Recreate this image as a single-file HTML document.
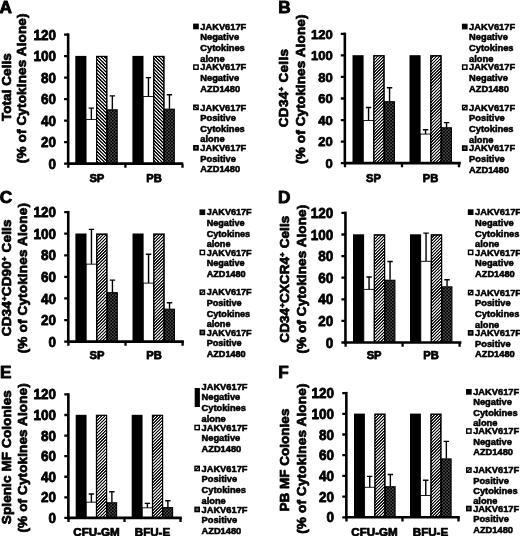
<!DOCTYPE html>
<html><head><meta charset="utf-8"><title>Figure</title>
<style>
html,body{margin:0;padding:0;background:#fff;overflow:hidden;}
svg{display:block;}
svg text{font-family:"Liberation Sans", sans-serif;font-weight:bold;fill:#000;stroke:#000;stroke-width:0.75px;stroke-linejoin:round;}
svg text.lg{stroke-width:0.55px;}
svg text.lt{stroke-width:0.9px;}
</style></head>
<body>
<svg width="520" height="536" viewBox="0 0 520 536">
<rect width="520" height="536" fill="#fff"/>
<defs>
<pattern id="hb" width="3.4" height="3.4" patternUnits="userSpaceOnUse"><rect width="3.4" height="3.4" fill="#fff"/><path d="M-1.7 -1.7L5.1 5.1M-1.7 1.7L1.7 5.1M1.7 -1.7L5.1 1.7" stroke="#000" stroke-width="1.35"/></pattern>
<pattern id="hf" width="3.1" height="3.1" patternUnits="userSpaceOnUse"><rect width="3.1" height="3.1" fill="#fff"/><path d="M-1.55 4.65L4.65 -1.55M-1.55 1.55L1.55 -1.55M1.55 4.65L4.65 1.55" stroke="#000" stroke-width="1.18"/></pattern>
<pattern id="hbm" width="2.4" height="2.4" patternUnits="userSpaceOnUse"><rect width="2.4" height="2.4" fill="#fff"/><path d="M-1.2 -1.2L3.6 3.6M-1.2 1.2L1.2 3.6M1.2 -1.2L3.6 1.2" stroke="#000" stroke-width="0.8"/></pattern>
<pattern id="hfm" width="2.4" height="2.4" patternUnits="userSpaceOnUse"><rect width="2.4" height="2.4" fill="#fff"/><path d="M-1.2 3.6L3.6 -1.2M-1.2 1.2L1.2 -1.2M1.2 3.6L3.6 1.2" stroke="#000" stroke-width="0.8"/></pattern>
<pattern id="chk" width="3.2" height="3.2" patternUnits="userSpaceOnUse"><rect width="3.2" height="3.2" fill="#000"/><rect x="0.2" y="0.2" width="1.2" height="1.2" fill="#808080"/><rect x="1.8" y="1.8" width="1.2" height="1.2" fill="#808080"/></pattern>
<filter id="ct" x="-5%" y="-5%" width="110%" height="110%" color-interpolation-filters="sRGB"><feComponentTransfer><feFuncR type="linear" slope="2.2" intercept="-0.6"/><feFuncG type="linear" slope="2.2" intercept="-0.6"/><feFuncB type="linear" slope="2.2" intercept="-0.6"/></feComponentTransfer></filter>
<pattern id="chkm" width="2" height="2" patternUnits="userSpaceOnUse"><rect width="2" height="2" fill="#000"/><rect x="0" y="0" width="1" height="1" fill="#999"/><rect x="1" y="1" width="1" height="1" fill="#999"/></pattern>
</defs>
<rect x="75.30" y="55.90" width="11.10" height="107.70" fill="#000"/>
<rect x="86.10" y="119.42" width="10.50" height="44.18" fill="#fff" stroke="#000" stroke-width="0.9"/>
<rect x="96.55" y="56.40" width="10.40" height="107.20" fill="url(#hb)" stroke="#000" stroke-width="1.2" filter="url(#ct)"/>
<rect x="107.35" y="109.82" width="9.85" height="53.78" fill="url(#chk)" stroke="#000" stroke-width="1.1"/>
<path d="M91.35 119.42V108.13M88.65 108.13H94.05" stroke="#000" stroke-width="1.4" fill="none"/>
<path d="M112.35 109.42V95.88M109.65 95.88H115.05" stroke="#000" stroke-width="1.4" fill="none"/>
<rect x="132.40" y="55.90" width="11.10" height="107.70" fill="#000"/>
<rect x="143.20" y="96.52" width="10.50" height="67.08" fill="#fff" stroke="#000" stroke-width="0.9"/>
<rect x="153.65" y="56.40" width="10.40" height="107.20" fill="url(#hb)" stroke="#000" stroke-width="1.2" filter="url(#ct)"/>
<rect x="164.45" y="109.18" width="9.85" height="54.42" fill="url(#chk)" stroke="#000" stroke-width="1.1"/>
<path d="M148.45 96.52V77.60M145.75 77.60H151.15" stroke="#000" stroke-width="1.4" fill="none"/>
<path d="M169.45 108.78V94.80M166.75 94.80H172.15" stroke="#000" stroke-width="1.4" fill="none"/>
<path d="M68.15 33.40V164.90" stroke="#000" stroke-width="2.6" fill="none"/>
<path d="M67.00 163.60H183.10" stroke="#000" stroke-width="2.6" fill="none"/>
<path d="M64.10 163.60H68.30M64.10 142.10H68.30M64.10 120.60H68.30M64.10 99.10H68.30M64.10 77.60H68.30M64.10 56.10H68.30M64.10 34.60H68.30M68.30 163.60V167.80M125.40 163.60V167.80M182.50 163.60V167.80" stroke="#000" stroke-width="2.29" fill="none"/>
<text transform="translate(55.90 168.67) scale(1 1.05)" font-size="13.5" text-anchor="end">0</text>
<text transform="translate(55.90 147.17) scale(1 1.05)" font-size="13.5" text-anchor="end">20</text>
<text transform="translate(55.90 125.67) scale(1 1.05)" font-size="13.5" text-anchor="end">40</text>
<text transform="translate(55.90 104.17) scale(1 1.05)" font-size="13.5" text-anchor="end">60</text>
<text transform="translate(55.90 82.67) scale(1 1.05)" font-size="13.5" text-anchor="end">80</text>
<text transform="translate(55.90 61.17) scale(1 1.05)" font-size="13.5" text-anchor="end">100</text>
<text transform="translate(55.90 39.67) scale(1 1.05)" font-size="13.5" text-anchor="end">120</text>
<text x="96.85" y="181.80" font-size="11.2" text-anchor="middle">SP</text>
<text x="153.95" y="181.80" font-size="11.2" text-anchor="middle">PB</text>
<text transform="translate(10.80 121.00) rotate(-90)" font-size="13.5" textLength="67.8" lengthAdjust="spacing">Total Cells</text>
<text transform="translate(26.40 163.20) rotate(-90)" font-size="13.5" textLength="149.7" lengthAdjust="spacing">(% of Cytokines Alone)</text>
<text x="-0.50" y="13.00" font-size="17.2" class="lt">A</text>
<rect x="193.80" y="24.30" width="4.30" height="4.30" fill="#000" stroke="#000" stroke-width="1.4"/>
<text font-size="9.3" class="lg"><tspan x="200.30" y="29.60">JAKV617F</tspan><tspan x="200.30" y="40.25">Negative</tspan><tspan x="200.30" y="50.90">Cytokines</tspan><tspan x="200.30" y="61.55">alone</tspan></text>
<rect x="193.80" y="65.00" width="4.30" height="4.30" fill="#fff" stroke="#000" stroke-width="1.4"/>
<text font-size="9.3" class="lg"><tspan x="200.30" y="70.30">JAKV617F</tspan><tspan x="200.30" y="80.95">Negative</tspan><tspan x="200.30" y="91.60">AZD1480</tspan></text>
<rect x="193.80" y="105.20" width="4.30" height="4.30" fill="#fff" stroke="#000" stroke-width="1.4"/>
<path d="M193.80 105.20L198.10 109.50" stroke="#000" stroke-width="1.3"/>
<text font-size="9.3" class="lg"><tspan x="200.30" y="110.50">JAKV617F</tspan><tspan x="200.30" y="121.15">Positive</tspan><tspan x="200.30" y="131.80">Cytokines</tspan><tspan x="200.30" y="142.45">alone</tspan></text>
<rect x="193.80" y="145.70" width="4.30" height="4.30" fill="#222" stroke="#000" stroke-width="1.4"/>
<rect x="194.90" y="146.80" width="2.10" height="2.10" fill="#6a6a6a"/>
<text font-size="9.3" class="lg"><tspan x="200.30" y="151.00">JAKV617F</tspan><tspan x="200.30" y="161.65">Positive</tspan><tspan x="200.30" y="172.30">AZD1480</tspan></text>
<rect x="352.50" y="55.20" width="11.10" height="107.95" fill="#000"/>
<rect x="363.30" y="120.59" width="10.50" height="42.56" fill="#fff" stroke="#000" stroke-width="0.9"/>
<rect x="373.75" y="55.70" width="10.40" height="107.45" fill="url(#hf)" stroke="#000" stroke-width="1.2" filter="url(#ct)"/>
<rect x="384.55" y="101.70" width="9.85" height="61.45" fill="url(#chk)" stroke="#000" stroke-width="1.1"/>
<path d="M368.55 120.59V107.44M365.85 107.44H371.25" stroke="#000" stroke-width="1.4" fill="none"/>
<path d="M389.55 101.30V87.73M386.85 87.73H392.25" stroke="#000" stroke-width="1.4" fill="none"/>
<rect x="409.50" y="55.20" width="11.10" height="107.95" fill="#000"/>
<rect x="420.30" y="134.06" width="10.50" height="29.09" fill="#fff" stroke="#000" stroke-width="0.9"/>
<rect x="430.75" y="55.70" width="10.40" height="107.45" fill="url(#hf)" stroke="#000" stroke-width="1.2" filter="url(#ct)"/>
<rect x="441.55" y="127.78" width="9.85" height="35.37" fill="url(#chk)" stroke="#000" stroke-width="1.1"/>
<path d="M425.55 134.06V129.75M422.85 129.75H428.25" stroke="#000" stroke-width="1.4" fill="none"/>
<path d="M446.55 127.38V122.64M443.85 122.64H449.25" stroke="#000" stroke-width="1.4" fill="none"/>
<path d="M344.85 32.65V164.45" stroke="#000" stroke-width="2.6" fill="none"/>
<path d="M343.70 163.15H460.80" stroke="#000" stroke-width="2.6" fill="none"/>
<path d="M340.80 163.15H345.00M340.80 141.60H345.00M340.80 120.05H345.00M340.80 98.50H345.00M340.80 76.95H345.00M340.80 55.40H345.00M340.80 33.85H345.00M345.00 163.15V167.35M402.00 163.15V167.35M459.00 163.15V167.35" stroke="#000" stroke-width="2.29" fill="none"/>
<text transform="translate(332.80 167.80) scale(1 1.0)" font-size="13" text-anchor="end">0</text>
<text transform="translate(332.80 146.25) scale(1 1.0)" font-size="13" text-anchor="end">20</text>
<text transform="translate(332.80 124.70) scale(1 1.0)" font-size="13" text-anchor="end">40</text>
<text transform="translate(332.80 103.15) scale(1 1.0)" font-size="13" text-anchor="end">60</text>
<text transform="translate(332.80 81.60) scale(1 1.0)" font-size="13" text-anchor="end">80</text>
<text transform="translate(332.80 60.05) scale(1 1.0)" font-size="13" text-anchor="end">100</text>
<text transform="translate(332.80 38.50) scale(1 1.0)" font-size="13" text-anchor="end">120</text>
<text x="373.50" y="181.80" font-size="11.2" text-anchor="middle">SP</text>
<text x="430.50" y="181.80" font-size="11.2" text-anchor="middle">PB</text>
<text transform="translate(288.20 127.20) rotate(-90)" font-size="13.5" textLength="78.2" lengthAdjust="spacing">CD34<tspan font-size="8" dy="-4">+</tspan><tspan dy="4"> Cells</tspan></text>
<text transform="translate(305.20 163.90) rotate(-90)" font-size="13.5" textLength="149.3" lengthAdjust="spacing">(% of Cytokines Alone)</text>
<text x="278.20" y="13.10" font-size="17.2" class="lt">B</text>
<rect x="462.60" y="24.40" width="4.30" height="4.30" fill="#000" stroke="#000" stroke-width="1.4"/>
<text font-size="9.3" class="lg"><tspan x="469.10" y="29.70">JAKV617F</tspan><tspan x="469.10" y="40.35">Negative</tspan><tspan x="469.10" y="51.00">Cytokines</tspan><tspan x="469.10" y="61.65">alone</tspan></text>
<rect x="462.60" y="65.00" width="4.30" height="4.30" fill="#fff" stroke="#000" stroke-width="1.4"/>
<text font-size="9.3" class="lg"><tspan x="469.10" y="70.30">JAKV617F</tspan><tspan x="469.10" y="80.95">Negative</tspan><tspan x="469.10" y="91.60">AZD1480</tspan></text>
<rect x="462.60" y="105.40" width="4.30" height="4.30" fill="#fff" stroke="#000" stroke-width="1.4"/>
<path d="M462.60 109.70L466.90 105.40" stroke="#000" stroke-width="1.3"/>
<text font-size="9.3" class="lg"><tspan x="469.10" y="110.70">JAKV617F</tspan><tspan x="469.10" y="121.35">Positive</tspan><tspan x="469.10" y="132.00">Cytokines</tspan><tspan x="469.10" y="142.65">alone</tspan></text>
<rect x="462.60" y="146.00" width="4.30" height="4.30" fill="#222" stroke="#000" stroke-width="1.4"/>
<rect x="463.70" y="147.10" width="2.10" height="2.10" fill="#6a6a6a"/>
<text font-size="9.3" class="lg"><tspan x="469.10" y="151.30">JAKV617F</tspan><tspan x="469.10" y="161.95">Positive</tspan><tspan x="469.10" y="172.60">AZD1480</tspan></text>
<rect x="75.40" y="233.50" width="11.10" height="108.10" fill="#000"/>
<rect x="86.20" y="264.13" width="10.50" height="77.47" fill="#fff" stroke="#000" stroke-width="0.9"/>
<rect x="96.65" y="234.00" width="10.40" height="107.60" fill="url(#hf)" stroke="#000" stroke-width="1.2" filter="url(#ct)"/>
<rect x="107.45" y="292.69" width="9.85" height="48.91" fill="url(#chk)" stroke="#000" stroke-width="1.1"/>
<path d="M91.45 264.13V229.38M88.75 229.38H94.15" stroke="#000" stroke-width="1.4" fill="none"/>
<path d="M112.45 292.29V280.10M109.75 280.10H115.15" stroke="#000" stroke-width="1.4" fill="none"/>
<rect x="132.50" y="233.50" width="11.10" height="108.10" fill="#000"/>
<rect x="143.30" y="283.12" width="10.50" height="58.48" fill="#fff" stroke="#000" stroke-width="0.9"/>
<rect x="153.75" y="234.00" width="10.40" height="107.60" fill="url(#hf)" stroke="#000" stroke-width="1.2" filter="url(#ct)"/>
<rect x="164.55" y="309.20" width="9.85" height="32.40" fill="url(#chk)" stroke="#000" stroke-width="1.1"/>
<path d="M148.55 283.12V254.20M145.85 254.20H151.25" stroke="#000" stroke-width="1.4" fill="none"/>
<path d="M169.55 308.80V302.76M166.85 302.76H172.25" stroke="#000" stroke-width="1.4" fill="none"/>
<path d="M68.25 210.92V342.90" stroke="#000" stroke-width="2.6" fill="none"/>
<path d="M67.10 341.60H183.90" stroke="#000" stroke-width="2.6" fill="none"/>
<path d="M64.20 341.60H68.40M64.20 320.02H68.40M64.20 298.44H68.40M64.20 276.86H68.40M64.20 255.28H68.40M64.20 233.70H68.40M64.20 212.12H68.40M68.40 341.60V345.80M125.50 341.60V345.80M182.60 341.60V345.80" stroke="#000" stroke-width="2.29" fill="none"/>
<text transform="translate(56.00 346.67) scale(1 1.05)" font-size="13.5" text-anchor="end">0</text>
<text transform="translate(56.00 325.09) scale(1 1.05)" font-size="13.5" text-anchor="end">20</text>
<text transform="translate(56.00 303.51) scale(1 1.05)" font-size="13.5" text-anchor="end">40</text>
<text transform="translate(56.00 281.93) scale(1 1.05)" font-size="13.5" text-anchor="end">60</text>
<text transform="translate(56.00 260.35) scale(1 1.05)" font-size="13.5" text-anchor="end">80</text>
<text transform="translate(56.00 238.77) scale(1 1.05)" font-size="13.5" text-anchor="end">100</text>
<text transform="translate(56.00 217.19) scale(1 1.05)" font-size="13.5" text-anchor="end">120</text>
<text x="96.95" y="358.60" font-size="11.2" text-anchor="middle">SP</text>
<text x="154.05" y="358.60" font-size="11.2" text-anchor="middle">PB</text>
<text transform="translate(11.20 336.20) rotate(-90)" font-size="13.5" textLength="116.7" lengthAdjust="spacing">CD34<tspan font-size="8" dy="-4">+</tspan><tspan dy="4">CD90</tspan><tspan font-size="8" dy="-4">+</tspan><tspan dy="4"> Cells</tspan></text>
<text transform="translate(27.40 353.30) rotate(-90)" font-size="13.5" textLength="150.2" lengthAdjust="spacing">(% of Cytokines Alone)</text>
<text x="-0.20" y="203.30" font-size="17.2" class="lt">C</text>
<rect x="200.20" y="210.10" width="4.30" height="4.30" fill="#000" stroke="#000" stroke-width="1.4"/>
<text font-size="9.1" class="lg"><tspan x="206.70" y="215.40">JAKV617F</tspan><tspan x="206.70" y="226.05">Negative</tspan><tspan x="206.70" y="236.70">Cytokines</tspan><tspan x="206.70" y="247.35">alone</tspan></text>
<rect x="200.20" y="250.30" width="4.30" height="4.30" fill="#fff" stroke="#000" stroke-width="1.4"/>
<text font-size="9.1" class="lg"><tspan x="206.70" y="255.60">JAKV617F</tspan><tspan x="206.70" y="266.25">Negative</tspan><tspan x="206.70" y="276.90">AZD1480</tspan></text>
<rect x="200.20" y="290.10" width="4.30" height="4.30" fill="#fff" stroke="#000" stroke-width="1.4"/>
<path d="M200.20 294.40L204.50 290.10" stroke="#000" stroke-width="1.3"/>
<text font-size="9.1" class="lg"><tspan x="206.70" y="295.40">JAKV617F</tspan><tspan x="206.70" y="306.05">Positive</tspan><tspan x="206.70" y="316.70">Cytokines</tspan><tspan x="206.70" y="327.35">alone</tspan></text>
<rect x="200.20" y="330.30" width="4.30" height="4.30" fill="#222" stroke="#000" stroke-width="1.4"/>
<rect x="201.30" y="331.40" width="2.10" height="2.10" fill="#6a6a6a"/>
<text font-size="9.1" class="lg"><tspan x="206.70" y="335.60">JAKV617F</tspan><tspan x="206.70" y="346.25">Positive</tspan><tspan x="206.70" y="356.90">AZD1480</tspan></text>
<rect x="353.00" y="234.30" width="11.10" height="108.20" fill="#000"/>
<rect x="363.80" y="289.36" width="10.50" height="53.14" fill="#fff" stroke="#000" stroke-width="0.9"/>
<rect x="374.25" y="234.80" width="10.40" height="107.70" fill="url(#hf)" stroke="#000" stroke-width="1.2" filter="url(#ct)"/>
<rect x="385.05" y="280.26" width="9.85" height="62.24" fill="url(#chk)" stroke="#000" stroke-width="1.1"/>
<path d="M369.05 289.36V277.05M366.35 277.05H371.75" stroke="#000" stroke-width="1.4" fill="none"/>
<path d="M390.05 279.86V261.50M387.35 261.50H392.75" stroke="#000" stroke-width="1.4" fill="none"/>
<rect x="410.00" y="234.30" width="11.10" height="108.20" fill="#000"/>
<rect x="420.80" y="261.28" width="10.50" height="81.22" fill="#fff" stroke="#000" stroke-width="0.9"/>
<rect x="431.25" y="234.80" width="10.40" height="107.70" fill="url(#hf)" stroke="#000" stroke-width="1.2" filter="url(#ct)"/>
<rect x="442.05" y="286.85" width="9.85" height="55.65" fill="url(#chk)" stroke="#000" stroke-width="1.1"/>
<path d="M426.05 261.28V233.10M423.35 233.10H428.75" stroke="#000" stroke-width="1.4" fill="none"/>
<path d="M447.05 286.45V279.75M444.35 279.75H449.75" stroke="#000" stroke-width="1.4" fill="none"/>
<path d="M345.45 211.70V343.80" stroke="#000" stroke-width="2.6" fill="none"/>
<path d="M344.30 342.50H461.40" stroke="#000" stroke-width="2.6" fill="none"/>
<path d="M341.40 342.50H345.60M341.40 320.90H345.60M341.40 299.30H345.60M341.40 277.70H345.60M341.40 256.10H345.60M341.40 234.50H345.60M341.40 212.90H345.60M345.60 342.50V346.70M402.60 342.50V346.70M459.60 342.50V346.70" stroke="#000" stroke-width="2.29" fill="none"/>
<text transform="translate(333.20 347.57) scale(1 1.05)" font-size="13.5" text-anchor="end">0</text>
<text transform="translate(333.20 325.97) scale(1 1.05)" font-size="13.5" text-anchor="end">20</text>
<text transform="translate(333.20 304.37) scale(1 1.05)" font-size="13.5" text-anchor="end">40</text>
<text transform="translate(333.20 282.77) scale(1 1.05)" font-size="13.5" text-anchor="end">60</text>
<text transform="translate(333.20 261.17) scale(1 1.05)" font-size="13.5" text-anchor="end">80</text>
<text transform="translate(333.20 239.57) scale(1 1.05)" font-size="13.5" text-anchor="end">100</text>
<text transform="translate(333.20 217.97) scale(1 1.05)" font-size="13.5" text-anchor="end">120</text>
<text x="374.10" y="358.60" font-size="11.2" text-anchor="middle">SP</text>
<text x="431.10" y="358.60" font-size="11.2" text-anchor="middle">PB</text>
<text transform="translate(288.80 342.70) rotate(-90)" font-size="13.5" textLength="127" lengthAdjust="spacing">CD34<tspan font-size="8" dy="-4">+</tspan><tspan dy="4">CXCR4</tspan><tspan font-size="8" dy="-4">+</tspan><tspan dy="4"> Cells</tspan></text>
<text transform="translate(306.30 353.60) rotate(-90)" font-size="13.5" textLength="148.8" lengthAdjust="spacing">(% of Cytokines Alone)</text>
<text x="278.10" y="203.20" font-size="17.2" class="lt">D</text>
<rect x="468.50" y="210.00" width="4.30" height="4.30" fill="#000" stroke="#000" stroke-width="1.4"/>
<text font-size="9.3" class="lg"><tspan x="475.00" y="215.30">JAKV617F</tspan><tspan x="475.00" y="225.95">Negative</tspan><tspan x="475.00" y="236.60">Cytokines</tspan><tspan x="475.00" y="247.25">alone</tspan></text>
<rect x="468.50" y="250.20" width="4.30" height="4.30" fill="#fff" stroke="#000" stroke-width="1.4"/>
<text font-size="9.3" class="lg"><tspan x="475.00" y="255.50">JAKV617F</tspan><tspan x="475.00" y="266.15">Negative</tspan><tspan x="475.00" y="276.80">AZD1480</tspan></text>
<rect x="468.50" y="290.40" width="4.30" height="4.30" fill="#fff" stroke="#000" stroke-width="1.4"/>
<path d="M468.50 294.70L472.80 290.40" stroke="#000" stroke-width="1.3"/>
<text font-size="9.3" class="lg"><tspan x="475.00" y="295.70">JAKV617F</tspan><tspan x="475.00" y="306.35">Positive</tspan><tspan x="475.00" y="317.00">Cytokines</tspan><tspan x="475.00" y="327.65">alone</tspan></text>
<rect x="468.50" y="330.70" width="4.30" height="4.30" fill="#222" stroke="#000" stroke-width="1.4"/>
<rect x="469.60" y="331.80" width="2.10" height="2.10" fill="#6a6a6a"/>
<text font-size="9.3" class="lg"><tspan x="475.00" y="336.00">JAKV617F</tspan><tspan x="475.00" y="346.65">Positive</tspan><tspan x="475.00" y="357.30">AZD1480</tspan></text>
<rect x="75.70" y="414.80" width="10.85" height="103.10" fill="#000"/>
<rect x="86.25" y="502.16" width="10.25" height="15.74" fill="#fff" stroke="#000" stroke-width="0.9"/>
<rect x="96.45" y="415.30" width="10.15" height="102.60" fill="url(#hf)" stroke="#000" stroke-width="1.2" filter="url(#ct)"/>
<rect x="107.00" y="502.76" width="9.60" height="15.14" fill="url(#chk)" stroke="#000" stroke-width="1.1"/>
<path d="M91.38 502.16V494.03M88.67 494.03H94.08" stroke="#000" stroke-width="1.4" fill="none"/>
<path d="M111.88 502.36V491.76M109.17 491.76H114.58" stroke="#000" stroke-width="1.4" fill="none"/>
<rect x="131.70" y="414.80" width="10.85" height="103.10" fill="#000"/>
<rect x="142.25" y="507.82" width="10.25" height="10.08" fill="#fff" stroke="#000" stroke-width="0.9"/>
<rect x="152.45" y="415.30" width="10.15" height="102.60" fill="url(#hf)" stroke="#000" stroke-width="1.2" filter="url(#ct)"/>
<rect x="163.00" y="507.60" width="9.60" height="10.30" fill="url(#chk)" stroke="#000" stroke-width="1.1"/>
<path d="M147.38 507.82V503.39M144.68 503.39H150.07" stroke="#000" stroke-width="1.4" fill="none"/>
<path d="M167.88 507.20V500.72M165.18 500.72H170.57" stroke="#000" stroke-width="1.4" fill="none"/>
<path d="M68.35 393.22V519.20" stroke="#000" stroke-width="2.6" fill="none"/>
<path d="M67.20 517.90H181.80" stroke="#000" stroke-width="2.6" fill="none"/>
<path d="M64.30 517.90H68.50M64.30 497.32H68.50M64.30 476.74H68.50M64.30 456.16H68.50M64.30 435.58H68.50M64.30 415.00H68.50M64.30 394.42H68.50M68.50 517.90V522.10M124.50 517.90V522.10M180.50 517.90V522.10" stroke="#000" stroke-width="2.29" fill="none"/>
<text transform="translate(56.10 522.97) scale(1 1.05)" font-size="13.5" text-anchor="end">0</text>
<text transform="translate(56.10 502.39) scale(1 1.05)" font-size="13.5" text-anchor="end">20</text>
<text transform="translate(56.10 481.81) scale(1 1.05)" font-size="13.5" text-anchor="end">40</text>
<text transform="translate(56.10 461.23) scale(1 1.05)" font-size="13.5" text-anchor="end">60</text>
<text transform="translate(56.10 440.65) scale(1 1.05)" font-size="13.5" text-anchor="end">80</text>
<text transform="translate(56.10 420.07) scale(1 1.05)" font-size="13.5" text-anchor="end">100</text>
<text transform="translate(56.10 399.49) scale(1 1.05)" font-size="13.5" text-anchor="end">120</text>
<text x="96.50" y="535.60" font-size="11.6" text-anchor="middle">CFU-GM</text>
<text x="152.50" y="535.60" font-size="11.6" text-anchor="middle">BFU-E</text>
<text transform="translate(10.50 524.20) rotate(-90)" font-size="13.5" textLength="134" lengthAdjust="spacing">Splenic MF Colonies</text>
<text transform="translate(27.40 532.50) rotate(-90)" font-size="13.5" textLength="149.2" lengthAdjust="spacing">(% of Cytokines Alone)</text>
<text x="-0.10" y="378.10" font-size="17.2" class="lt">E</text>
<rect x="194.7" y="388" width="5.2" height="19" fill="#000"/>
<text font-size="9.3" class="lg"><tspan x="201.50" y="389.70">JAKV617F</tspan><tspan x="201.50" y="400.35">Negative</tspan><tspan x="201.50" y="411.00">Cytokines</tspan><tspan x="201.50" y="421.65">alone</tspan></text>
<rect x="195.00" y="425.40" width="4.30" height="4.30" fill="#fff" stroke="#000" stroke-width="1.4"/>
<text font-size="9.3" class="lg"><tspan x="201.50" y="430.70">JAKV617F</tspan><tspan x="201.50" y="441.35">Negative</tspan><tspan x="201.50" y="452.00">AZD1480</tspan></text>
<rect x="195.00" y="466.30" width="4.30" height="4.30" fill="#fff" stroke="#000" stroke-width="1.4"/>
<path d="M195.00 470.60L199.30 466.30" stroke="#000" stroke-width="1.3"/>
<text font-size="9.3" class="lg"><tspan x="201.50" y="471.60">JAKV617F</tspan><tspan x="201.50" y="482.25">Positive</tspan><tspan x="201.50" y="492.90">Cytokines</tspan><tspan x="201.50" y="503.55">alone</tspan></text>
<rect x="195.00" y="507.30" width="4.30" height="4.30" fill="#222" stroke="#000" stroke-width="1.4"/>
<rect x="196.10" y="508.40" width="2.10" height="2.10" fill="#6a6a6a"/>
<text font-size="9.3" class="lg"><tspan x="201.50" y="512.60">JAKV617F</tspan><tspan x="201.50" y="523.25">Positive</tspan><tspan x="201.50" y="533.90">AZD1480</tspan></text>
<rect x="354.00" y="413.60" width="10.90" height="103.70" fill="#000"/>
<rect x="364.60" y="487.28" width="10.30" height="30.01" fill="#fff" stroke="#000" stroke-width="0.9"/>
<rect x="374.85" y="414.10" width="10.20" height="103.20" fill="url(#hf)" stroke="#000" stroke-width="1.2" filter="url(#ct)"/>
<rect x="385.45" y="486.75" width="9.65" height="30.55" fill="url(#chk)" stroke="#000" stroke-width="1.1"/>
<path d="M369.75 487.28V476.42M367.05 476.42H372.45" stroke="#000" stroke-width="1.4" fill="none"/>
<path d="M390.35 486.35V474.55M387.65 474.55H393.05" stroke="#000" stroke-width="1.4" fill="none"/>
<rect x="410.00" y="413.60" width="10.90" height="103.70" fill="#000"/>
<rect x="420.60" y="495.46" width="10.30" height="21.84" fill="#fff" stroke="#000" stroke-width="0.9"/>
<rect x="430.85" y="414.10" width="10.20" height="103.20" fill="url(#hf)" stroke="#000" stroke-width="1.2" filter="url(#ct)"/>
<rect x="441.45" y="458.91" width="9.65" height="58.39" fill="url(#chk)" stroke="#000" stroke-width="1.1"/>
<path d="M425.75 495.46V480.25M423.05 480.25H428.45" stroke="#000" stroke-width="1.4" fill="none"/>
<path d="M446.35 458.51V441.33M443.65 441.33H449.05" stroke="#000" stroke-width="1.4" fill="none"/>
<path d="M346.35 391.90V518.60" stroke="#000" stroke-width="2.6" fill="none"/>
<path d="M345.20 517.30H459.80" stroke="#000" stroke-width="2.6" fill="none"/>
<path d="M342.30 517.30H346.50M342.30 496.60H346.50M342.30 475.90H346.50M342.30 455.20H346.50M342.30 434.50H346.50M342.30 413.80H346.50M342.30 393.10H346.50M346.50 517.30V521.50M402.50 517.30V521.50M458.50 517.30V521.50" stroke="#000" stroke-width="2.29" fill="none"/>
<text transform="translate(334.10 522.37) scale(1 1.05)" font-size="13.5" text-anchor="end">0</text>
<text transform="translate(334.10 501.67) scale(1 1.05)" font-size="13.5" text-anchor="end">20</text>
<text transform="translate(334.10 480.97) scale(1 1.05)" font-size="13.5" text-anchor="end">40</text>
<text transform="translate(334.10 460.27) scale(1 1.05)" font-size="13.5" text-anchor="end">60</text>
<text transform="translate(334.10 439.57) scale(1 1.05)" font-size="13.5" text-anchor="end">80</text>
<text transform="translate(334.10 418.87) scale(1 1.05)" font-size="13.5" text-anchor="end">100</text>
<text transform="translate(334.10 398.17) scale(1 1.05)" font-size="13.5" text-anchor="end">120</text>
<text x="374.50" y="535.60" font-size="11.6" text-anchor="middle">CFU-GM</text>
<text x="430.50" y="535.60" font-size="11.6" text-anchor="middle">BFU-E</text>
<text transform="translate(288.80 511.60) rotate(-90)" font-size="13.5" textLength="103" lengthAdjust="spacing">PB MF Colonies</text>
<text transform="translate(305.80 533.80) rotate(-90)" font-size="13.5" textLength="150.2" lengthAdjust="spacing">(% of Cytokines Alone)</text>
<text x="278.20" y="377.90" font-size="17.2" class="lt">F</text>
<rect x="466.70" y="389.70" width="4.30" height="4.30" fill="#000" stroke="#000" stroke-width="1.4"/>
<text font-size="9.3" class="lg"><tspan x="473.20" y="395.00">JAKV617F</tspan><tspan x="473.20" y="405.40">Negative</tspan><tspan x="473.20" y="415.80">Cytokines</tspan><tspan x="473.20" y="426.20">alone</tspan></text>
<rect x="466.70" y="428.90" width="4.30" height="4.30" fill="#fff" stroke="#000" stroke-width="1.4"/>
<text font-size="9.3" class="lg"><tspan x="473.20" y="434.20">JAKV617F</tspan><tspan x="473.20" y="444.60">Negative</tspan><tspan x="473.20" y="455.00">AZD1480</tspan></text>
<rect x="466.70" y="467.90" width="4.30" height="4.30" fill="#fff" stroke="#000" stroke-width="1.4"/>
<path d="M466.70 472.20L471.00 467.90" stroke="#000" stroke-width="1.3"/>
<text font-size="9.3" class="lg"><tspan x="473.20" y="473.20">JAKV617F</tspan><tspan x="473.20" y="483.60">Positive</tspan><tspan x="473.20" y="494.00">Cytokines</tspan><tspan x="473.20" y="504.40">alone</tspan></text>
<rect x="466.70" y="506.40" width="4.30" height="4.30" fill="#222" stroke="#000" stroke-width="1.4"/>
<rect x="467.80" y="507.50" width="2.10" height="2.10" fill="#6a6a6a"/>
<text font-size="9.3" class="lg"><tspan x="473.20" y="511.70">JAKV617F</tspan><tspan x="473.20" y="522.10">Positive</tspan><tspan x="473.20" y="532.50">AZD1480</tspan></text>
</svg>
</body></html>
